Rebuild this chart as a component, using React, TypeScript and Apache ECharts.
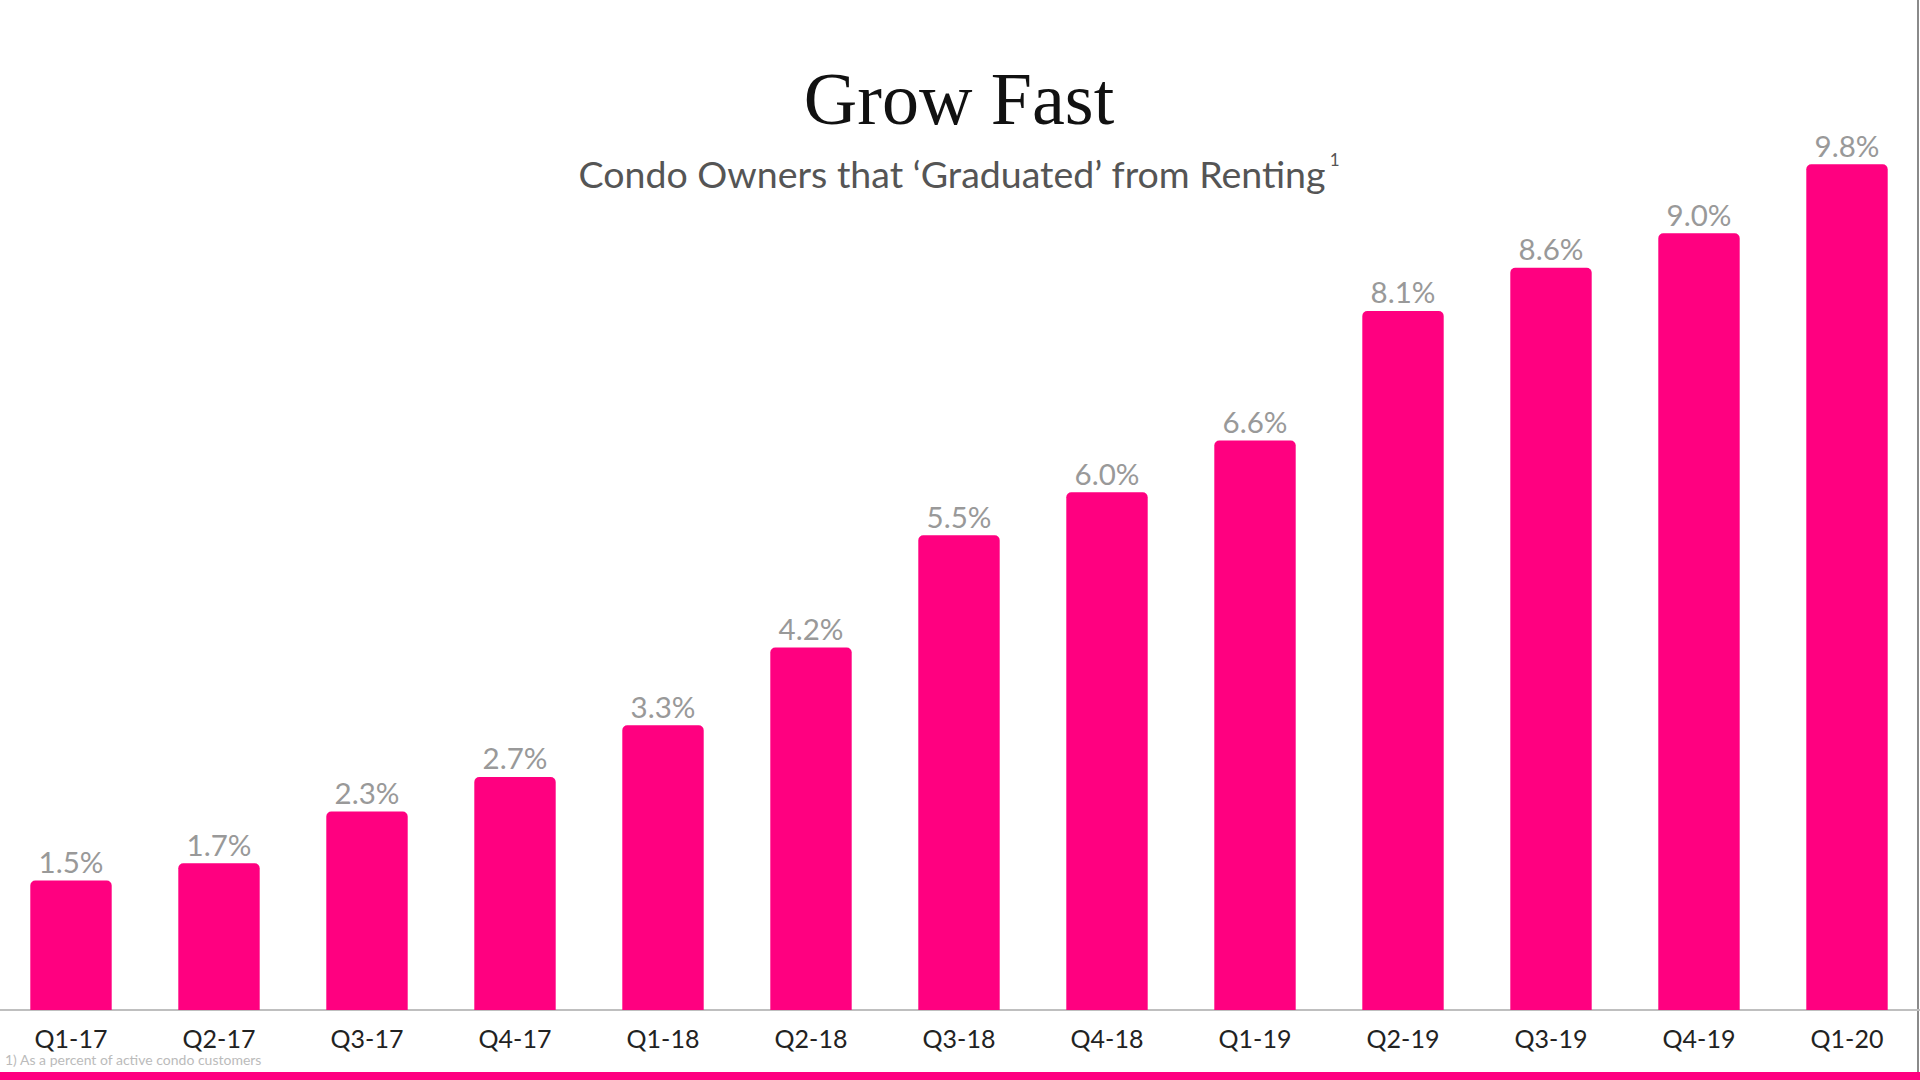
import React, { useEffect, useRef } from "react";
import * as echarts from "echarts";

const categories = ["Q1-17", "Q2-17", "Q3-17", "Q4-17", "Q1-18", "Q2-18", "Q3-18", "Q4-18", "Q1-19", "Q2-19", "Q3-19", "Q4-19", "Q1-20"];
const values = [1.5, 1.7, 2.3, 2.7, 3.3, 4.2, 5.5, 6.0, 6.6, 8.1, 8.6, 9.0, 9.8];
const titleText = "Grow Fast";
const subtitleText = "Condo Owners that ‘Graduated’ from Renting";
const footnoteText = "1) As a percent of active condo customers";

const PINK = "#FF0080";
const OFFSET = 3;

export default function App() {
  const ref = useRef<HTMLDivElement>(null);
  useEffect(() => {
    if (!ref.current) return;
    const chart = echarts.init(ref.current, null, { renderer: "svg" });
    chart.setOption({
      animation: false,
      backgroundColor: "#ffffff",
      title: [
        {
          text: titleText,
          left: "center",
          top: 55,
          textStyle: { fontFamily: "Liberation Serif", fontSize: 74, fontWeight: "normal", color: "#111111", lineHeight: 78 },
        },
        {
          text: subtitleText + "{sup|1}",
          left: "center",
          top: 146,
          textStyle: {
            fontFamily: "Lato",
            fontSize: 37.5,
            fontWeight: "normal",
            color: "#555555",
            lineHeight: 44,
            rich: { sup: { fontFamily: "Lato", fontSize: 17, fontWeight: "normal", color: "#555555", verticalAlign: "top", padding: [0, 0, 20, 4] } },
          },
        },
      ],
      grid: { left: 0, right: 0, top: 147, bottom: 70, containLabel: false },
      xAxis: {
        type: "category",
        data: categories,
        axisLine: { show: true, lineStyle: { color: "#bfbfbf", width: 2 } },
        axisTick: { show: false },
        axisLabel: { color: "#222222", fontFamily: "Lato", fontSize: 25, margin: 15, interval: 0 },
      },
      yAxis: { type: "value", min: 0, max: 10, show: false, splitLine: { show: false } },
      series: [
        {
          type: "bar",
          data: values,
          barCategoryGap: "45%",
          itemStyle: { color: PINK, borderRadius: [5, 5, 0, 0] },
          label: {
            show: true,
            position: "top",
            distance: 4,
            formatter: (p: any) => p.value.toFixed(1) + "%",
            color: "#999999",
            fontFamily: "Lato",
            fontSize: 29.5,
          },
        },
      ],
      graphic: [
        { type: "rect", left: 0, top: 1072, shape: { width: 1930, height: 8 }, style: { fill: PINK } },
        { type: "line", shape: { x1: 1918 + OFFSET, y1: 0, x2: 1918 + OFFSET, y2: 1072 }, style: { stroke: "#8a8a8a", lineWidth: 2 } },
        { type: "text", left: 5 + OFFSET, top: 1052, style: { text: footnoteText, fill: "#bbbbbb", fontFamily: "Lato", fontSize: 14 } },
      ],
    });
    return () => chart.dispose();
  }, []);
  return <div ref={ref} style={{ position: "fixed", left: -OFFSET, top: 0, width: 1924, height: 1080 }} />;
}
